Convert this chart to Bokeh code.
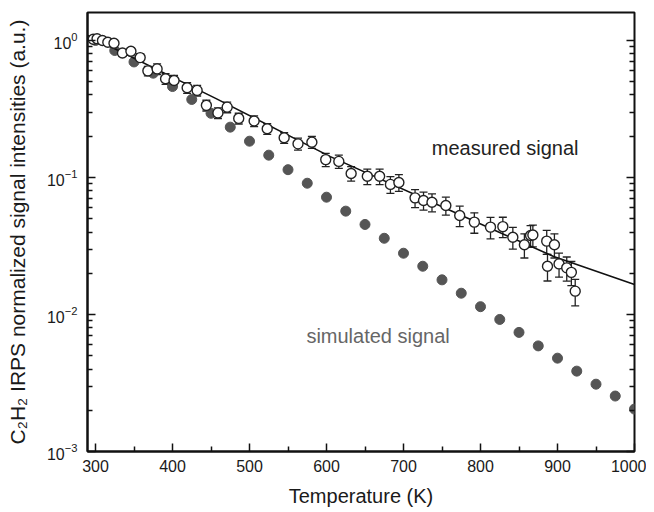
from bokeh.plotting import figure
from bokeh.models import (Range1d, FixedTicker, LogAxis, Whisker, ColumnDataSource,
                          TeeHead, Label)
from bokeh.embed import file_html
from bokeh.resources import INLINE

# ---------------- data ----------------
sim_T = [300, 325, 350, 375, 400, 425, 450, 475, 500, 525, 550, 575, 600, 625, 650,
         675, 700, 725, 750, 775, 800, 825, 850, 875, 900, 925, 950, 975, 1000]
sim_y = [1.0, 0.845, 0.697, 0.577, 0.461, 0.371, 0.294, 0.233, 0.184, 0.1455, 0.114,
         0.0908, 0.0718, 0.0568, 0.0454, 0.036, 0.028, 0.0225, 0.0179, 0.0143, 0.0114,
         0.0092, 0.0074, 0.0059, 0.0048, 0.00386, 0.0031, 0.00254, 0.00204]

meas_T = [297, 302, 309, 316, 324, 335, 346, 358, 368, 380, 391, 402, 419, 432, 444,
          459, 471, 486, 506, 523, 545, 563, 581, 599, 616, 632, 653, 669, 683, 694,
          715, 726, 737, 755, 773, 792, 813, 829, 842, 857, 865, 868, 886, 896, 887,
          902, 912, 918, 923]
meas_y = [1.02, 1.03, 1.0, 0.97, 0.955, 0.81, 0.835, 0.75, 0.60, 0.62, 0.525, 0.51,
          0.452, 0.432, 0.336, 0.296, 0.326, 0.27, 0.258, 0.227, 0.195, 0.176, 0.181,
          0.135, 0.131, 0.107, 0.102, 0.102, 0.089, 0.092, 0.071, 0.068, 0.066, 0.0625,
          0.0528, 0.0472, 0.0434, 0.0438, 0.0366, 0.0323, 0.0377, 0.0380, 0.0343,
          0.0323, 0.0225, 0.0234, 0.0219, 0.0203, 0.0148]
meas_err = [0.03, 0.03, 0.03, 0.03, 0.04, 0.05, 0.06, 0.07, 0.08, 0.09, 0.09, 0.09,
            0.09, 0.09, 0.09, 0.09, 0.09, 0.09, 0.09, 0.09, 0.09, 0.10, 0.10, 0.11,
            0.11, 0.12, 0.13, 0.13, 0.14, 0.14, 0.15, 0.15, 0.15, 0.15, 0.17, 0.17,
            0.18, 0.17, 0.18, 0.20, 0.18, 0.18, 0.20, 0.20, 0.22, 0.20, 0.20, 0.20, 0.22]

fit_T = [290, 456, 605, 761, 895, 1000]
fit_y = [1.088, 0.378, 0.142, 0.0574, 0.0265, 0.01656]

x_ticks = [300, 400, 500, 600, 700, 800, 900, 1000]
x_minor = [350, 450, 550, 650, 750, 850, 950]
y_ticks = [0.001, 0.01, 0.1, 1]
y_tick_keys = ["0.001", "0.01", "0.1", "1"]
y_tick_labels = ["10\u207b\u00b3", "10\u207b\u00b2", "10\u207b\u00b9", "10\u2070"]
y_minor = [m * d for d in [0.001, 0.01, 0.1] for m in range(2, 10)]

# ---------------- figure ----------------
FONT = "Liberation Sans"
TXT = "#1a1a1a"

p = figure(width=646, height=510, x_range=Range1d(289.6, 1000),
           y_range=Range1d(1e-3, 1.6), y_axis_type="log",
           output_backend="svg", toolbar_location=None,
           min_border_left=87, min_border_right=12, min_border_top=12,
           min_border_bottom=59)
p.xgrid.visible = False
p.ygrid.visible = False
p.outline_line_color = "#111111"
p.outline_line_width = 2
p.background_fill_color = "white"
p.border_fill_color = "white"

# x axis
xa = p.xaxis[0]
xa.ticker = FixedTicker(ticks=x_ticks, minor_ticks=x_minor)
xa.axis_label = "Temperature (K)"
# y axis
ya = p.yaxis[0]
ya.ticker = FixedTicker(ticks=y_ticks, minor_ticks=y_minor)
ya.major_label_overrides = dict(zip(y_tick_keys, y_tick_labels))
ya.axis_label = "C\u2082H\u2082 IRPS normalized signal intensities (a.u.)"

ra = LogAxis(ticker=FixedTicker(ticks=y_ticks, minor_ticks=y_minor),
             major_label_text_font_size="0px", major_label_text_color=None,
             axis_line_color=None)
p.add_layout(ra, "right")

for ax in (xa, ya, ra):
    ax.major_tick_out = 0
    ax.major_tick_in = 8
    ax.minor_tick_out = 0
    ax.minor_tick_in = 5
    ax.major_tick_line_color = "#111111"
    ax.minor_tick_line_color = "#111111"
    ax.major_tick_line_width = 1.5
    ax.minor_tick_line_width = 1.5
for ax in (xa, ya):
    ax.axis_line_color = "#111111"
    ax.axis_line_width = 2
    ax.major_label_text_font = FONT
    ax.major_label_text_font_size = "16px"
    ax.major_label_text_color = TXT
    ax.axis_label_text_font = FONT
    ax.axis_label_text_font_size = "20px"
    ax.axis_label_text_font_style = "normal"
    ax.axis_label_text_color = TXT
ya.axis_label_text_font_size = "21px"
xa.major_label_standoff = 8
xa.axis_label_standoff = 10
ya.major_label_standoff = 10
ya.axis_label_standoff = 15
ra.major_label_standoff = 0

# simulated signal
p.scatter(sim_T, sim_y, size=10, marker="circle", fill_color="#555555",
          line_color="#555555")

# fit line
p.line(fit_T, fit_y, line_color="#111111", line_width=1.6)

# measured with error bars
up = [y * (1 + e) for y, e in zip(meas_y, meas_err)]
lo = [y * (1 - e) for y, e in zip(meas_y, meas_err)]
src = ColumnDataSource(dict(T=meas_T, y=meas_y, up=up, lo=lo))
w = Whisker(source=src, base="T", upper="up", lower="lo", dimension="height",
            line_color="#222222", line_width=1.3,
            upper_head=TeeHead(size=8, line_color="#222222", line_width=1.3),
            lower_head=TeeHead(size=8, line_color="#222222", line_width=1.3))
p.add_layout(w)
p.scatter("T", "y", source=src, size=10, marker="circle", fill_color="white",
          line_color="#222222", line_width=1.4)

p.add_layout(Label(x=832, y=0.163, text="measured signal", text_align="center",
                   text_baseline="middle", text_font=FONT, text_font_size="20px",
                   text_color="#222222"))
p.add_layout(Label(x=667, y=0.0070, text="simulated signal", text_align="center",
                   text_baseline="middle", text_font=FONT, text_font_size="20px",
                   text_color="#666666"))

open("out.html", "w").write(file_html(p, INLINE))
